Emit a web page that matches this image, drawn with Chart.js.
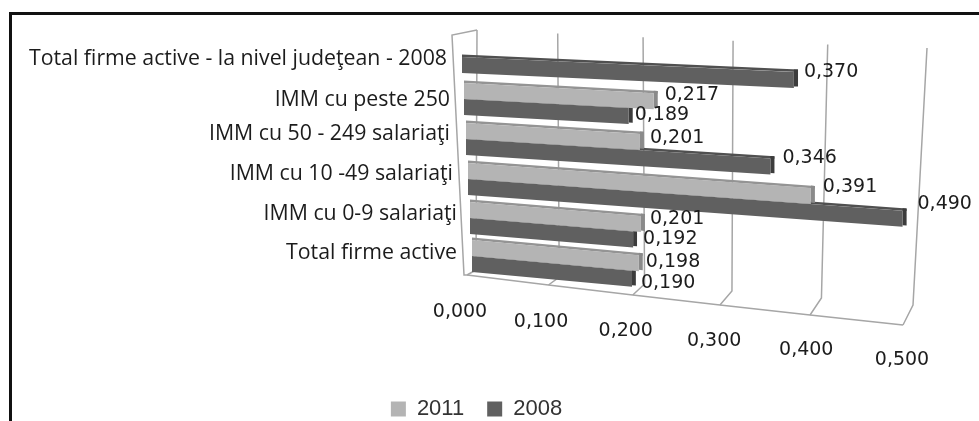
<!DOCTYPE html>
<html><head><meta charset="utf-8">
<script src="https://cdn.jsdelivr.net/npm/chart.js@4"></script>
<style>
html,body{margin:0;padding:0;background:#fff;overflow:hidden}
#wrap{position:relative;width:979px;height:421px}
#frame{position:absolute;left:9px;top:12px;right:0;bottom:0;border-left:3px solid #111;border-top:3px solid #111}
canvas{position:absolute;left:0;top:0;filter:blur(0.55px)}
</style></head><body>
<div id="wrap"><div id="frame"></div><canvas id="c" width="979" height="421"></canvas></div>
<script>
const categories = ["Total firme active - la nivel judeţean - 2008","IMM cu peste 250","IMM cu 50 - 249 salariaţi","IMM cu 10 -49 salariaţi","IMM cu 0-9 salariaţi","Total firme active"];
const series2011 = [null,0.217,0.201,0.391,0.201,0.198];
const series2008 = [0.370,0.189,0.346,0.490,0.192,0.190];
const xTicks = [0,0.1,0.2,0.3,0.4,0.5];

const fmt = v => v.toFixed(3).replace('.',',');
const VAL_FONT = '19px "DejaVu Sans"';
const CAT_FONT = '21.3px "Open Sans"';
const TEXT = '#1c1c1c', GRID = '#a6a6a6';

/* perspective look of the tilted 3D chart */
const rowShift = [2,4,4,4,3,1];
const rowLeft = r => 462 + 2*r;
const rowSlope = r => 0.045 + 0.0094*r;
const unitPx = (v,r) => 860 + 100*v - 7.4*r;
const catRight = [447,450,450,453,457,457];
const catDy = [4,5,-1,-1,-1,-2];
const nudge2011 = [null,[11,-6],[10,-4],[12,-9],[9,-5],[7,-1]];
const nudge2008 = [[10,-8],[6,-1],[12,-8],[15,-15],[10,0],[9,4]];

const faceColors = [{top:'#949494',cap:'#8a8a8a'},{top:'#505050',cap:'#3c3c3c'}];
const values = [series2011, series2008];
const nudges = [nudge2011, nudge2008];

function barTransform(el, r, v){
  const len = Math.abs(el.x - el.base);
  const s = len ? unitPx(v,r)*v/len : 1;
  const slope = rowSlope(r)*s;
  return {a:s,b:slope,e:rowLeft(r)-s*el.base,f:-slope*el.base+rowShift[r]};
}
const tickT = (sx,v) => (sx.getPixelForValue(v)-sx.left)/sx.width;

const tilt = {
  id:'tilt',
  beforeDatasetsDraw(chart){
    const ctx = chart.ctx, sx = chart.scales.x;
    const T = v => tickT(sx,v);
    const P = {
      topX:t=>477+392*t+58*t*t, topY:t=>30+18*t,
      backX:t=>476+411*t+26*t*t, backY:t=>270+35*t,
      frontX:t=>467+400*t+36*t*t, frontY:t=>275+50*t
    };
    ctx.save();
    ctx.strokeStyle = GRID; ctx.lineWidth = 1.5;
    xTicks.forEach(v=>{
      const t=T(v);
      ctx.beginPath();
      ctx.moveTo(P.topX(t),P.topY(t));
      ctx.lineTo(P.backX(t),P.backY(t));
      ctx.lineTo(P.frontX(t),P.frontY(t));
      ctx.stroke();
    });
    ctx.beginPath();
    xTicks.forEach((v,i)=>{const t=T(v); i?ctx.lineTo(P.frontX(t),P.frontY(t)):ctx.moveTo(P.frontX(t),P.frontY(t));});
    ctx.stroke();
    ctx.beginPath();
    ctx.moveTo(P.topX(0),P.topY(0));
    ctx.lineTo(452,35);
    ctx.lineTo(464,275);
    ctx.lineTo(P.frontX(0),P.frontY(0));
    ctx.stroke();
    ctx.restore();
  },
  beforeDatasetDraw(chart,args){
    const ctx = chart.ctx, i = args.index, cols = faceColors[i];
    args.meta.data.forEach((el,r)=>{
      const v = values[i][r];
      if(v==null) return;
      const p = el.getProps(['x','y','base','height'],true);
      const m = barTransform(p,r,v);
      ctx.save();
      ctx.transform(m.a,m.b,0,1,m.e,m.f);
      const top = p.y-p.height/2;
      ctx.fillStyle = cols.top;
      ctx.fillRect(p.base,top-2.5,p.x-p.base+4,2.5);
      ctx.fillStyle = cols.cap;
      ctx.fillRect(p.x,top-2.5,4,p.height+1);
      el.draw(ctx);
      ctx.restore();
    });
    return false;
  },
  afterDatasetsDraw(chart){
    const ctx = chart.ctx, sx = chart.scales.x, sy = chart.scales.y;
    ctx.save();
    ctx.fillStyle = TEXT;
    ctx.textBaseline = 'middle';
    ctx.font = VAL_FONT; ctx.textAlign = 'left';
    values.forEach((arr,i)=>{
      const data = chart.getDatasetMeta(i).data;
      arr.forEach((v,r)=>{
        if(v==null) return;
        const p = data[r].getProps(['x','y','base','height'],true);
        const m = barTransform(p,r,v);
        const ex = m.a*p.x+m.e, ey = m.b*p.x+p.y+m.f;
        const n = nudges[i][r];
        ctx.fillText(fmt(v),ex+n[0],ey+n[1]);
      });
    });
    ctx.textAlign = 'center';
    xTicks.forEach(v=>{
      const t = tickT(sx,v);
      ctx.fillText(fmt(v),460+396*t+46*t*t,312+48*t);
    });
    ctx.font = CAT_FONT; ctx.textAlign = 'right';
    categories.forEach((c,r)=>{
      ctx.fillText(c,catRight[r],sy.getPixelForTick(r)+catDy[r]);
    });
    ctx.restore();
  }
};

new Chart(document.getElementById('c'),{
  type:'bar',
  data:{labels:categories,datasets:[
    {label:'2011',data:series2011,backgroundColor:'#b4b4b4',borderWidth:0},
    {label:'2008',data:series2008,backgroundColor:'#606060',borderWidth:0}
  ]},
  plugins:[tilt],
  options:{
    indexAxis:'y',responsive:false,animation:false,
    categoryPercentage:0.8,barPercentage:1,
    layout:{padding:{top:35,left:0,right:26,bottom:-9}},
    plugins:{
      tooltip:{enabled:false},
      legend:{position:'bottom',labels:{boxWidth:15,boxHeight:15,padding:23,color:'#333',font:{family:'"Liberation Sans"',size:22}}}
    },
    scales:{
      x:{type:'linear',min:0,max:0.5,grid:{display:false},border:{display:false},ticks:{display:false},afterFit(s){s.height=100;}},
      y:{type:'category',grid:{display:false},border:{display:false},ticks:{display:false},afterFit(s){s.width=462;}},
      pad:{axis:'y',type:'linear',position:'right',grid:{display:false},border:{display:false},ticks:{display:false},afterFit(s){s.width=56;}}
    }
  }
});
</script>
</body></html>
